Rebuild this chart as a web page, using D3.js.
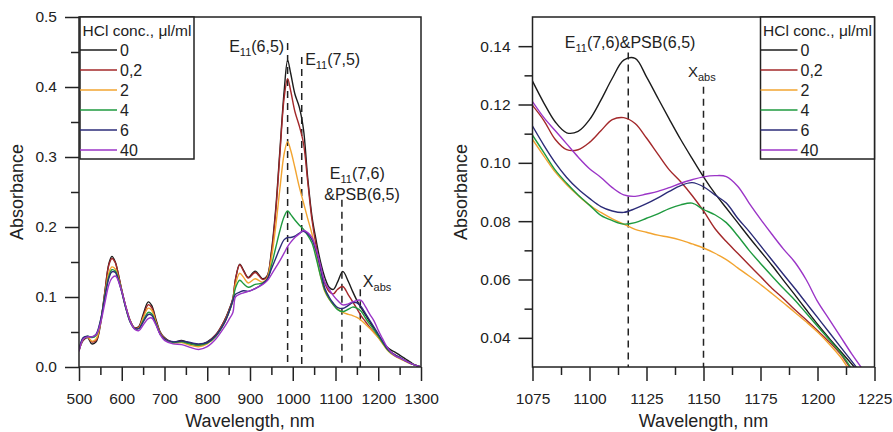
<!DOCTYPE html>
<html>
<head>
<meta charset="utf-8">
<script src="https://cdn.jsdelivr.net/npm/d3@7"></script>
<style>
body { margin: 0; background: #fff; }
svg { font-family: "Liberation Sans", Arial, sans-serif; }
</style>
</head>
<body>
<svg id="chart" width="893" height="432"></svg>
<script>
var concLabels = ['0', '0,2', '2', '4', '6', '40'];
var lineColors = ['#1c1c1c', '#a3282a', '#f2a430', '#1f9a3f', '#2c2c78', '#9b35c7'];

// full spectrum, left panel
var wlFull = [500, 510, 520, 530, 540, 550, 560, 570, 577, 585, 590, 600, 610, 620, 630, 640, 650,
    662, 670, 680, 690, 700, 720, 740, 760, 780, 800, 820, 840, 850, 860, 866, 876, 885, 896, 912,
    930, 940, 950, 960, 970, 980, 988, 995, 1005, 1015, 1025, 1035, 1045, 1055, 1065, 1075,
    1085, 1095, 1105, 1117, 1130, 1140, 1150, 1160, 1170, 1180, 1190, 1200, 1210, 1220, 1230, 1240,
    1250, 1260, 1270, 1280, 1290, 1300];
var full0 = [0.024, 0.038, 0.042, 0.033, 0.036, 0.060, 0.105, 0.148, 0.158, 0.150, 0.138, 0.110, 0.085, 0.066, 0.056, 0.058, 0.075,
    0.093, 0.088, 0.068, 0.050, 0.042, 0.035, 0.038, 0.034, 0.032, 0.036, 0.046, 0.066, 0.080, 0.098, 0.125, 0.147, 0.138, 0.128, 0.137,
    0.126, 0.130, 0.165, 0.225, 0.310, 0.395, 0.438, 0.420, 0.390, 0.372, 0.340, 0.270, 0.215, 0.180, 0.150, 0.128,
    0.114, 0.1108, 0.1215, 0.1366, 0.1222, 0.108, 0.0952, 0.0845, 0.0745, 0.0649, 0.0548, 0.0447, 0.0355, 0.029, 0.024, 0.021,
    0.017, 0.013, 0.009, 0.005, 0.002, 0.0];
var full02 = [0.024, 0.039, 0.043, 0.036, 0.038, 0.062, 0.105, 0.146, 0.155, 0.149, 0.138, 0.110, 0.085, 0.066, 0.056, 0.057, 0.072,
    0.089, 0.085, 0.066, 0.049, 0.041, 0.035, 0.037, 0.033, 0.031, 0.035, 0.046, 0.066, 0.080, 0.098, 0.125, 0.146, 0.137, 0.127, 0.135,
    0.125, 0.129, 0.162, 0.220, 0.305, 0.385, 0.412, 0.395, 0.365, 0.345, 0.320, 0.265, 0.210, 0.172, 0.142, 0.1197,
    0.108, 0.1045, 0.111, 0.1150, 0.103, 0.0935, 0.0835, 0.073, 0.065, 0.057, 0.0497, 0.0425, 0.0345, 0.027, 0.021, 0.017,
    0.013, 0.010, 0.007, 0.004, 0.002, 0.0];
var full2 = [0.023, 0.040, 0.043, 0.037, 0.040, 0.062, 0.100, 0.135, 0.143, 0.140, 0.132, 0.108, 0.084, 0.065, 0.055, 0.056, 0.070,
    0.084, 0.081, 0.064, 0.048, 0.040, 0.034, 0.035, 0.031, 0.029, 0.033, 0.044, 0.063, 0.077, 0.095, 0.118, 0.134, 0.128, 0.120, 0.126,
    0.121, 0.127, 0.155, 0.200, 0.255, 0.305, 0.322, 0.310, 0.285, 0.258, 0.235, 0.212, 0.190, 0.160, 0.130, 0.108,
    0.097, 0.0888, 0.083, 0.078, 0.0752, 0.0735, 0.0708, 0.0668, 0.0612, 0.0552, 0.0488, 0.042, 0.0335, 0.025, 0.019, 0.015,
    0.012, 0.009, 0.006, 0.004, 0.002, 0.0];
var full4 = [0.024, 0.041, 0.044, 0.042, 0.045, 0.065, 0.100, 0.130, 0.139, 0.137, 0.130, 0.108, 0.083, 0.064, 0.055, 0.055, 0.066,
    0.078, 0.076, 0.062, 0.047, 0.040, 0.035, 0.036, 0.033, 0.031, 0.034, 0.044, 0.063, 0.077, 0.095, 0.113, 0.124, 0.119, 0.114, 0.118,
    0.120, 0.125, 0.145, 0.170, 0.195, 0.215, 0.223, 0.218, 0.210, 0.203, 0.197, 0.188, 0.177, 0.155, 0.130, 0.1095,
    0.0975, 0.089, 0.082, 0.079, 0.0825, 0.0856, 0.084, 0.0795, 0.070, 0.0612, 0.053, 0.044, 0.035, 0.026, 0.020, 0.016,
    0.013, 0.010, 0.007, 0.004, 0.002, 0.0];
var full6 = [0.025, 0.042, 0.044, 0.043, 0.047, 0.066, 0.098, 0.127, 0.136, 0.135, 0.128, 0.107, 0.083, 0.064, 0.055, 0.055, 0.064,
    0.075, 0.074, 0.061, 0.047, 0.040, 0.036, 0.037, 0.035, 0.033, 0.035, 0.045, 0.063, 0.077, 0.095, 0.104, 0.107, 0.109, 0.108, 0.112,
    0.119, 0.125, 0.140, 0.155, 0.170, 0.182, 0.185, 0.185, 0.187, 0.191, 0.194, 0.190, 0.182, 0.165, 0.140, 0.1126,
    0.100, 0.091, 0.085, 0.0835, 0.088, 0.0922, 0.0918, 0.0862, 0.0765, 0.0667, 0.057, 0.047, 0.037, 0.027, 0.021, 0.017,
    0.014, 0.010, 0.007, 0.004, 0.002, 0.0];
var full40 = [0.022, 0.040, 0.043, 0.043, 0.046, 0.062, 0.090, 0.118, 0.127, 0.130, 0.126, 0.108, 0.085, 0.065, 0.054, 0.052, 0.060,
    0.069, 0.070, 0.060, 0.046, 0.038, 0.033, 0.032, 0.028, 0.025, 0.029, 0.040, 0.057, 0.067, 0.078, 0.100, 0.104, 0.106, 0.108, 0.112,
    0.118, 0.123, 0.132, 0.142, 0.152, 0.163, 0.172, 0.178, 0.185, 0.190, 0.195, 0.192, 0.185, 0.168, 0.145, 0.121,
    0.111, 0.102, 0.095, 0.0887, 0.0902, 0.093, 0.0952, 0.0953, 0.0862, 0.0755, 0.066, 0.0525, 0.0405, 0.029, 0.021, 0.016,
    0.013, 0.010, 0.007, 0.004, 0.002, 0.0];

// 1075-1225 nm detail, right panel
var wlZoom = [1075, 1080, 1085, 1090, 1095, 1100, 1105, 1110, 1115, 1120, 1125, 1130, 1135, 1140, 1145,
    1150, 1155, 1160, 1165, 1170, 1175, 1180, 1185, 1190, 1195, 1200, 1205, 1210, 1215, 1220];
var zoom0 = [0.128, 0.1205, 0.114, 0.1103, 0.1108, 0.1148, 0.1215, 0.129, 0.1352, 0.1358, 0.1295, 0.1222, 0.115, 0.108, 0.1015,
    0.0952, 0.0895, 0.0845, 0.0795, 0.0745, 0.0697, 0.0649, 0.0598, 0.0548, 0.0497, 0.0447, 0.040, 0.0355, 0.031, 0.0265];
var zoom02 = [0.1197, 0.1145, 0.108, 0.1045, 0.1045, 0.107, 0.111, 0.1148, 0.1155, 0.1135, 0.1085, 0.103, 0.0976, 0.0935, 0.0888,
    0.0835, 0.0775, 0.073, 0.069, 0.065, 0.061, 0.057, 0.0535, 0.0497, 0.0462, 0.0425, 0.0387, 0.0345, 0.029, 0.025];
var zoom2 = [0.108, 0.1023, 0.0968, 0.0925, 0.0888, 0.0855, 0.083, 0.0808, 0.079, 0.0772, 0.0762, 0.0752, 0.0745, 0.0735, 0.0722,
    0.0708, 0.069, 0.0668, 0.064, 0.0612, 0.0583, 0.0552, 0.052, 0.0488, 0.0455, 0.042, 0.038, 0.0335, 0.028, 0.024];
var zoom4 = [0.1095, 0.1035, 0.0975, 0.093, 0.089, 0.0855, 0.082, 0.0802, 0.079, 0.0795, 0.081, 0.0825, 0.0843, 0.0856, 0.0862,
    0.084, 0.0822, 0.0795, 0.075, 0.070, 0.0655, 0.0612, 0.057, 0.053, 0.0485, 0.044, 0.0395, 0.035, 0.0295, 0.025];
var zoom6 = [0.1126, 0.106, 0.100, 0.095, 0.091, 0.0878, 0.085, 0.0835, 0.083, 0.0843, 0.086, 0.088, 0.0902, 0.0922, 0.0932,
    0.0918, 0.089, 0.0862, 0.081, 0.0765, 0.0716, 0.0667, 0.0618, 0.057, 0.052, 0.047, 0.042, 0.037, 0.032, 0.027];
var zoom40 = [0.121, 0.1155, 0.111, 0.1065, 0.102, 0.098, 0.095, 0.0915, 0.089, 0.0885, 0.0893, 0.0902, 0.0915, 0.093, 0.0942,
    0.0952, 0.0956, 0.0953, 0.092, 0.0862, 0.0807, 0.0755, 0.0705, 0.066, 0.060, 0.0525, 0.0465, 0.0405, 0.0345, 0.029];

var leftXTicks = [500, 600, 700, 800, 900, 1000, 1100, 1200, 1300];
var leftXMinor = [550, 650, 750, 850, 950, 1050, 1150, 1250];
var leftYTicks = [0, 0.1, 0.2, 0.3, 0.4, 0.5];
var leftYMinor = [0.05, 0.15, 0.25, 0.35, 0.45];
var rightXTicks = [1075, 1100, 1125, 1150, 1175, 1200, 1225];
var rightXMinor = [1087.5, 1112.5, 1137.5, 1162.5, 1187.5, 1212.5];
var rightYTicks = [0.04, 0.06, 0.08, 0.10, 0.12, 0.14];
var rightYMinor = [0.05, 0.07, 0.09, 0.11, 0.13];

// marker lines: [wavelength, top absorbance]
var leftMarkers = [[988, 0.463], [1021, 0.443], [1115, 0.239], [1158, 0.111]];
var rightMarkers = [[1117, 0.1378], [1150, 0.1261]];

var svg = d3.select('#chart');
var ink = '#222';

function drawPanel(p) {
    var x = d3.scaleLinear().domain(p.xDomain).range([p.left, p.right]);
    var y = d3.scaleLinear().domain(p.yDomain).range([p.bottom, p.top]);
    var g = svg.append('g');

    svg.append('clipPath').attr('id', p.id + '-clip')
        .append('rect')
        .attr('x', p.left).attr('y', p.top)
        .attr('width', p.right - p.left).attr('height', p.bottom - p.top);

    g.selectAll('.marker').data(p.markers).enter().append('line')
        .attr('x1', function (d) { return x(d[0]); })
        .attr('x2', function (d) { return x(d[0]); })
        .attr('y1', function (d) { return y(d[1]); })
        .attr('y2', p.bottom)
        .style('stroke', ink)
        .style('stroke-width', 1.5)
        .style('stroke-dasharray', '7,5');

    var line = d3.line()
        .x(function (d) { return x(d[0]); })
        .y(function (d) { return y(d[1]); })
        .curve(d3.curveCatmullRom.alpha(0.5));

    g.append('g').attr('clip-path', 'url(#' + p.id + '-clip)')
        .selectAll('path').data(p.series).enter().append('path')
        .attr('d', function (s) {
            return line(p.wl.map(function (w, i) { return [w, s[i]]; }));
        })
        .style('fill', 'none')
        .style('stroke', function (s, i) { return lineColors[i]; })
        .style('stroke-width', 1.4);

    var xAxis = g.append('g').attr('transform', 'translate(0,' + p.bottom + ')')
        .call(d3.axisBottom(x).tickValues(p.xTicks).tickSize(14).tickPadding(12).tickFormat(d3.format('d')));
    var xMinor = g.append('g').attr('transform', 'translate(0,' + p.bottom + ')')
        .call(d3.axisBottom(x).tickValues(p.xMinor).tickSize(8).tickFormat(''));
    var yAxis = g.append('g').attr('transform', 'translate(' + p.left + ',0)')
        .call(d3.axisLeft(y).tickValues(p.yTicks).tickSize(14).tickPadding(8).tickFormat(d3.format(p.yFormat)));
    var yMinor = g.append('g').attr('transform', 'translate(' + p.left + ',0)')
        .call(d3.axisLeft(y).tickValues(p.yMinor).tickSize(8).tickFormat(''));

    [xAxis, xMinor, yAxis, yMinor].forEach(function (a) {
        a.select('.domain').remove();
        a.selectAll('line').style('stroke', ink).style('stroke-width', 1.5);
        a.selectAll('text').style('font-size', '15.5px').style('fill', ink)
            .style('font-family', '"Liberation Sans", Arial, sans-serif');
    });

    g.append('rect')
        .attr('x', p.left).attr('y', p.top)
        .attr('width', p.right - p.left).attr('height', p.bottom - p.top)
        .style('fill', 'none').style('stroke', ink).style('stroke-width', 1.5);

    g.append('text')
        .attr('x', (p.left + p.right) / 2).attr('y', 427)
        .attr('text-anchor', 'middle')
        .style('font-size', '18px').style('fill', ink)
        .text('Wavelength, nm');

    g.append('text')
        .attr('transform', 'translate(' + p.yTitleX + ',' + (p.top + p.bottom) / 2 + ') rotate(-90)')
        .attr('text-anchor', 'middle')
        .style('font-size', '18px').style('fill', ink)
        .text('Absorbance');

    p.notes.forEach(function (n) {
        var t = g.append('text')
            .attr('x', x(n.at[0])).attr('y', y(n.at[1]))
            .attr('text-anchor', n.anchor)
            .style('font-size', (n.size || 16) + 'px').style('fill', ink);
        var shift = 0;
        n.parts.forEach(function (part) {
            var sub = part.charAt(0) === '_';
            var span = t.append('tspan').text(sub ? part.slice(1) : part);
            if (sub) {
                span.attr('dy', 4).style('font-size', '11px');
                shift = 4;
            } else if (shift) {
                span.attr('dy', -shift);
                shift = 0;
            }
        });
    });

    var lg = g.append('g').attr('transform', 'translate(' + p.legendX + ',' + p.top + ')');
    lg.append('rect')
        .attr('x', 0).attr('y', 0).attr('width', 114).attr('height', 142)
        .style('fill', '#fff').style('stroke', ink).style('stroke-width', 1.5);
    lg.append('text')
        .attr('x', 57).attr('y', 19)
        .attr('text-anchor', 'middle')
        .style('font-size', '15.5px').style('fill', ink)
        .text('HCl conc., \u03bcl/ml');
    var items = lg.selectAll('.item').data(concLabels).enter().append('g')
        .attr('transform', function (d, i) { return 'translate(0,' + (33 + i * 20) + ')'; });
    items.append('line')
        .attr('x1', 0).attr('x2', 37)
        .style('stroke', function (d, i) { return lineColors[i]; })
        .style('stroke-width', 1.6);
    items.append('text')
        .attr('x', 40).attr('y', 6)
        .style('font-size', '16px').style('fill', ink)
        .text(function (d) { return d; });
}

drawPanel({
    id: 'left', wl: wlFull,
    series: [full0, full02, full2, full4, full6, full40],
    xDomain: [500, 1300], yDomain: [0, 0.5],
    left: 79, right: 421, top: 17, bottom: 367,
    xTicks: leftXTicks, xMinor: leftXMinor, yTicks: leftYTicks, yMinor: leftYMinor, yFormat: '.1f',
    markers: leftMarkers, yTitleX: 23, legendX: 80,
    notes: [
        {at: [980, 0.45], anchor: 'end', parts: ['E', '_11', '(6,5)']},
        {at: [1029, 0.4314], anchor: 'start', parts: ['E', '_11', '(7,5)']},
        {at: [1151, 0.268], anchor: 'middle', parts: ['E', '_11', '(7,6)']},
        {at: [1162, 0.2386], anchor: 'middle', parts: ['&PSB(6,5)']},
        {at: [1164, 0.1143], anchor: 'start', parts: ['X', '_abs']}
    ]
});

drawPanel({
    id: 'right', wl: wlZoom,
    series: [zoom0, zoom02, zoom2, zoom4, zoom6, zoom40],
    xDomain: [1075, 1225], yDomain: [0.03, 0.15],
    left: 532.5, right: 874.5, top: 17, bottom: 367,
    xTicks: rightXTicks, xMinor: rightXMinor, yTicks: rightYTicks, yMinor: rightYMinor, yFormat: '.2f',
    markers: rightMarkers, yTitleX: 467, legendX: 760.5,
    notes: [
        {at: [1117.8, 0.1395], anchor: 'middle', parts: ['E', '_11', '(7,6)&PSB(6,5)']},
        {at: [1143.2, 0.1295], anchor: 'start', size: 15, parts: ['X', '_abs']}
    ]
});
</script>
</body>
</html>
